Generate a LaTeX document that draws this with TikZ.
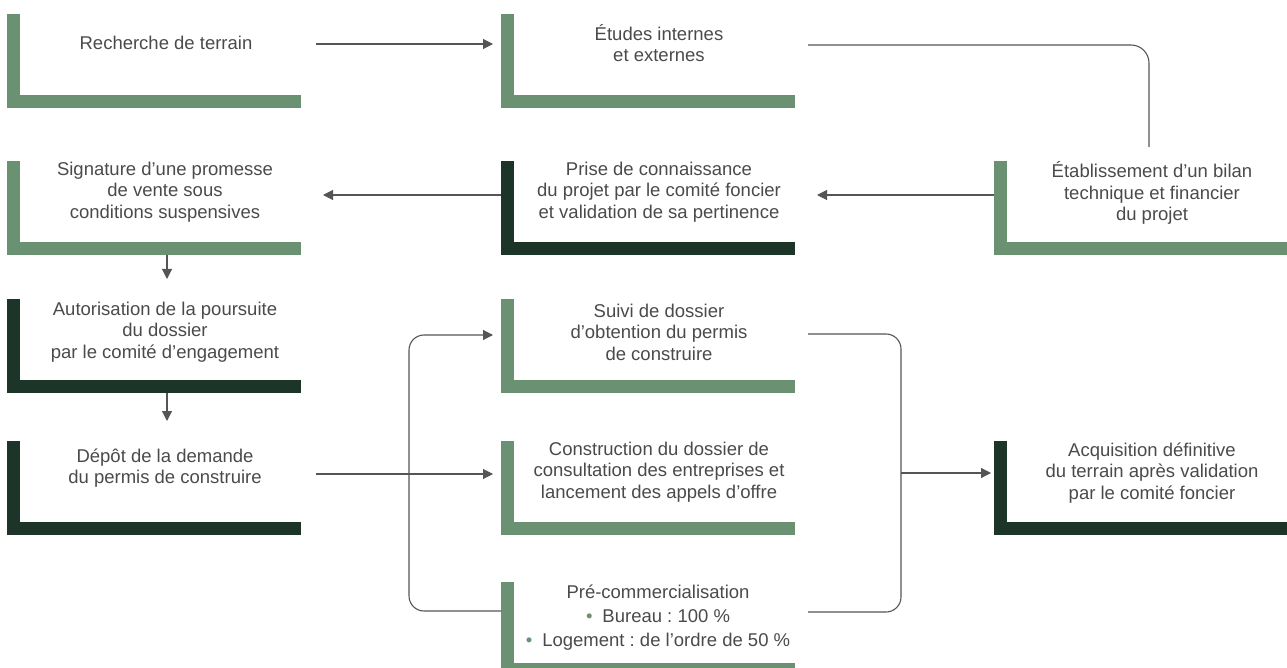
\documentclass[tikz,border=0pt]{standalone}
\usepackage{fontspec}
\setmainfont{Liberation Sans}
\usetikzlibrary{arrows.meta,calc}
\definecolor{lightg}{HTML}{6A9172}
\definecolor{darkg}{HTML}{1D3529}
\definecolor{txtc}{HTML}{4A4A4A}
\definecolor{linec}{HTML}{555555}
\frenchspacing
\tikzset{
  lbox/.style={anchor=north west, minimum width=294pt, minimum height=94pt,
    inner sep=0pt, outer sep=0pt,
    path picture={
      \fill[#1] (path picture bounding box.north west) rectangle ([xshift=13pt]path picture bounding box.south west);
      \fill[#1] (path picture bounding box.south west) rectangle ([yshift=13pt]path picture bounding box.south east);
    }},
  txt/.style={align=center, inner sep=0pt, text=txtc,
    font=\fontsize{18.5}{21.5}\selectfont},
  conn/.style={draw=linec, line width=1.1pt},
  arr/.style={conn, -{Triangle[length=10pt,width=10pt]}},
}
\newcommand{\gbul}{{\color{lightg}\textbullet}\hspace{10pt}}
\begin{document}
\begin{tikzpicture}[x=1pt,y=-1pt]
\useasboundingbox (0,0) rectangle (1287,668);
% boxes
\node[lbox=lightg] (b1) at (7,14) {};
\node[lbox=lightg] (b2) at (501,14) {};
\node[lbox=lightg] (b3) at (994,161) {};
\node[lbox=darkg]  (b4) at (501,161) {};
\node[lbox=lightg] (b5) at (7,161) {};
\node[lbox=darkg]  (b6) at (7,299) {};
\node[lbox=darkg]  (b7) at (7,441) {};
\node[lbox=lightg] (b8) at (501,299) {};
\node[lbox=lightg] (b9) at (501,441) {};
\node[lbox=lightg] (b10) at (501,582) {};
\node[lbox=darkg]  (b11) at (994,441) {};
% texts
\node[txt] (t1) at ($(b1.north west)+(159,29)$) {Recherche de terrain};
\node[txt] (t2) at ($(b2.north west)+(158,29)$) {Études internes\\et externes};
\node[txt] (t3) at ($(b3.north west)+(158,32)$) {Établissement d’un bilan\\technique et financier\\du projet};
\node[txt] (t4) at ($(b4.north west)+(158,31)$) {Prise de connaissance\\du projet par le comité foncier\\et validation de sa pertinence};
\node[txt] (t5) at ($(b5.north west)+(158,31)$) {Signature d’une promesse\\de vente sous\\conditions suspensives};
\node[txt] (t6) at ($(b6.north west)+(158,33)$) {Autorisation de la poursuite\\du dossier\\par le comité d’engagement};
\node[txt] (t7) at ($(b7.north west)+(158,27)$) {Dépôt de la demande\\du permis de construire};
\node[txt] (t8) at ($(b8.north west)+(158,33)$) {Suivi de dossier\\d’obtention du permis\\de construire};
\node[txt] (t9) at ($(b9.north west)+(158,31)$) {Construction du dossier de\\consultation des entreprises et\\lancement des appels d’offre};
\node[txt] (t10) at ($(b10.north west)+(157,36)$) {Pré-commercialisation\\[2.5pt]\gbul Bureau : 100 \%\\[2.5pt]\gbul Logement : de l’ordre de 50 \%};
\node[txt] (t11) at ($(b11.north west)+(158,32)$) {Acquisition définitive\\du terrain après validation\\par le comité foncier};
% connectors
\draw[arr] ($(b1.north east)+(15,30)$) -- ($(b2.north west)+(-8,30)$);
\draw[conn, rounded corners=18pt] ($(b2.north east)+(13,31)$) -| ($(b3.north west)+(155,-14)$);
\draw[arr] ($(b3.north west)+(0,34)$) -- ($(b4.north east)+(22,34)$);
\draw[arr] ($(b4.north west)+(0,34)$) -- ($(b5.north east)+(22,34)$);
\draw[arr] ($(b5.south west)+(160,0)$) -- ($(b6.north west)+(160,-20)$);
\draw[arr] ($(b6.south west)+(160,0)$) -- ($(b7.north west)+(160,-20)$);
\draw[arr] ($(b7.north east)+(15,33)$) -- ($(b9.north west)+(-8,33)$);
% left bracket
\coordinate (lc) at ($(b8.north west)+(-92,36)$);
\draw[arr, rounded corners=15pt] ($(b10.north west)+(0,29)$) -| (lc) -- ($(b8.north west)+(-8,36)$);
% right bracket
\coordinate (rt) at ($(b8.north east)+(106,35)$);
\coordinate (rb) at ($(b10.north east)+(106,30)$);
\coordinate (rm) at ($(b11.north west)+(-93,32)$);
\draw[conn, rounded corners=15pt] ($(b8.north east)+(13,35)$) -- (rt) -- (rb) -- ($(b10.north east)+(13,30)$);
\draw[arr] (rm) -- ($(b11.north west)+(-3,32)$);
\end{tikzpicture}
\end{document}
